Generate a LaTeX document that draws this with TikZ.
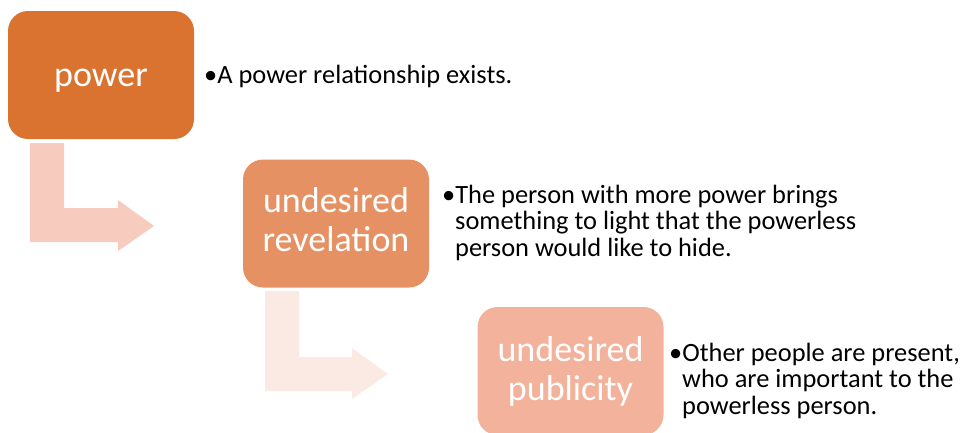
\documentclass[tikz,border=0pt]{standalone}
\usepackage{fontspec}
\setmainfont{Carlito}
\definecolor{cA}{HTML}{D9732F}
\definecolor{cB}{HTML}{E69164}
\definecolor{cC}{HTML}{F2B29B}
\definecolor{aA}{HTML}{F7CBBE}
\definecolor{aB}{HTML}{FBEAE4}
\begin{document}
\begin{tikzpicture}[x=1pt,y=-1pt,
  stagebox/.style={rounded corners=20pt, minimum width=186pt, minimum height=128pt, inner sep=0pt},
  stagetext/.style={inner sep=0pt, text=white, align=center, font=\fontsize{36}{39}\selectfont},
  bullettext/.style={anchor=base west, inner sep=0pt, font=\fontsize{26.4}{27}\selectfont, text=black}]
\useasboundingbox (0,0) rectangle (965,432);
\clip (0,0) rectangle (965,432);
% bent arrows
\fill[aA] (30,143) -- (64,143) -- (64,208) -- (118,208) -- (118,200) -- (154,226) -- (118,251) -- (118,242) -- (30,242) -- cycle;
\fill[aB] (265,291) -- (299,291) -- (299,357) -- (352,357) -- (352,348) -- (388,374) -- (352,399) -- (352,391) -- (265,391) -- cycle;
% boxes
\node[stagebox, fill=cA] (power) at (101,75) {};
\node[stagebox, fill=cB] (revel) at (336,223.5) {};
\node[stagebox, fill=cC] (publ) at (570.5,371) {};
\node[stagetext, anchor=base] (powerL) at ([yshift=-11pt]power.center) {power};
\node[stagetext] (revelL) at ([yshift=3.5pt]revel.center) {undesired\\revelation};
\node[stagetext] (publL) at (publ.center) {undesired\\publicity};
% texts
\node[bullettext] (t1) at (204,83) {•A power relationship exists.};
\node[bullettext] (t2a) at (442,203) {•The person with more power brings};
\node[bullettext] (t2b) at (455,229.5) {something to light that the powerless};
\node[bullettext] (t2c) at (455,256) {person would like to hide.};
\node[bullettext] (t3a) at (669,361) {•Other people are present,};
\node[bullettext] (t3b) at (682,387.5) {who are important to the};
\node[bullettext] (t3c) at (682,414) {powerless person.};
\end{tikzpicture}
\end{document}
